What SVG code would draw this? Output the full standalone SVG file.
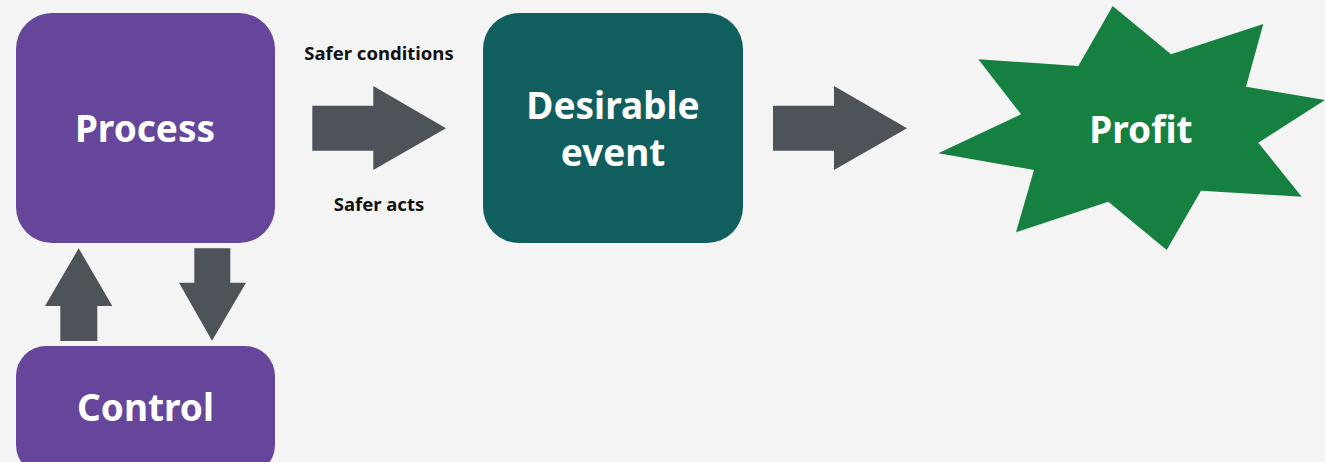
<svg xmlns="http://www.w3.org/2000/svg" width="1325" height="462" viewBox="0 0 1325 462">
  <style>
    .box-purple { fill: #66469b; }
    .box-teal { fill: #115e5e; }
    .burst { fill: #158040; }
    .arrow { fill: #4e535a; }
    .big { font-family: "Noto Sans", "Open Sans", sans-serif; font-weight: 700; font-size: 37px; fill: #ffffff; text-anchor: middle; }
    .small { font-family: "Noto Sans", "Open Sans", sans-serif; font-weight: 700; font-size: 18.5px; fill: #111111; text-anchor: middle; }
  </style>
  <rect width="1325" height="462" fill="#f4f4f4"/>

  <g id="process">
    <rect class="box-purple" x="16" y="13" width="259" height="230" rx="36"/>
    <text class="big" x="145" y="142">Process</text>
  </g>

  <g id="control">
    <rect class="box-purple" x="16" y="346" width="259" height="129" rx="30"/>
    <text class="big" x="145.5" y="421">Control</text>
  </g>

  <g id="desirable-event">
    <rect class="box-teal" x="483" y="13" width="260" height="230" rx="36"/>
    <text class="big" x="613" y="119">Desirable</text>
    <text class="big" x="613" y="166">event</text>
  </g>

  <g id="profit">
    <polygon class="burst" points="1112.7,6 1171,54.3 1263.3,24 1246,86.7 1325,100 1258.3,142.7 1301.7,196.7 1201,190.7 1166.7,250 1108.3,201.7 1016,232.3 1034,170 938.3,153.3 1021,114.3 978.3,59.3 1078.3,66"/>
    <text class="big" x="1141" y="143">Profit</text>
  </g>

  <g id="connectors">
    <polygon class="arrow" points="312.3,105.7 373.3,105.7 373.3,86 446,128.3 373.3,170 373.3,150.7 312.3,150.7"/>
    <polygon class="arrow" points="773,105.7 834,105.7 834,86 907,128.3 834,170 834,150.7 773,150.7"/>
    <polygon class="arrow" points="60.3,341 60.3,306 45,306 78.7,248.3 112.3,306 97.3,306 97.3,341"/>
    <polygon class="arrow" points="194.3,248.3 230.3,248.3 230.3,282.7 246,282.7 212,340.7 179,282.7 194.3,282.7"/>
    <text class="small" x="379" y="60">Safer conditions</text>
    <text class="small" x="379" y="211">Safer acts</text>
  </g>
</svg>
